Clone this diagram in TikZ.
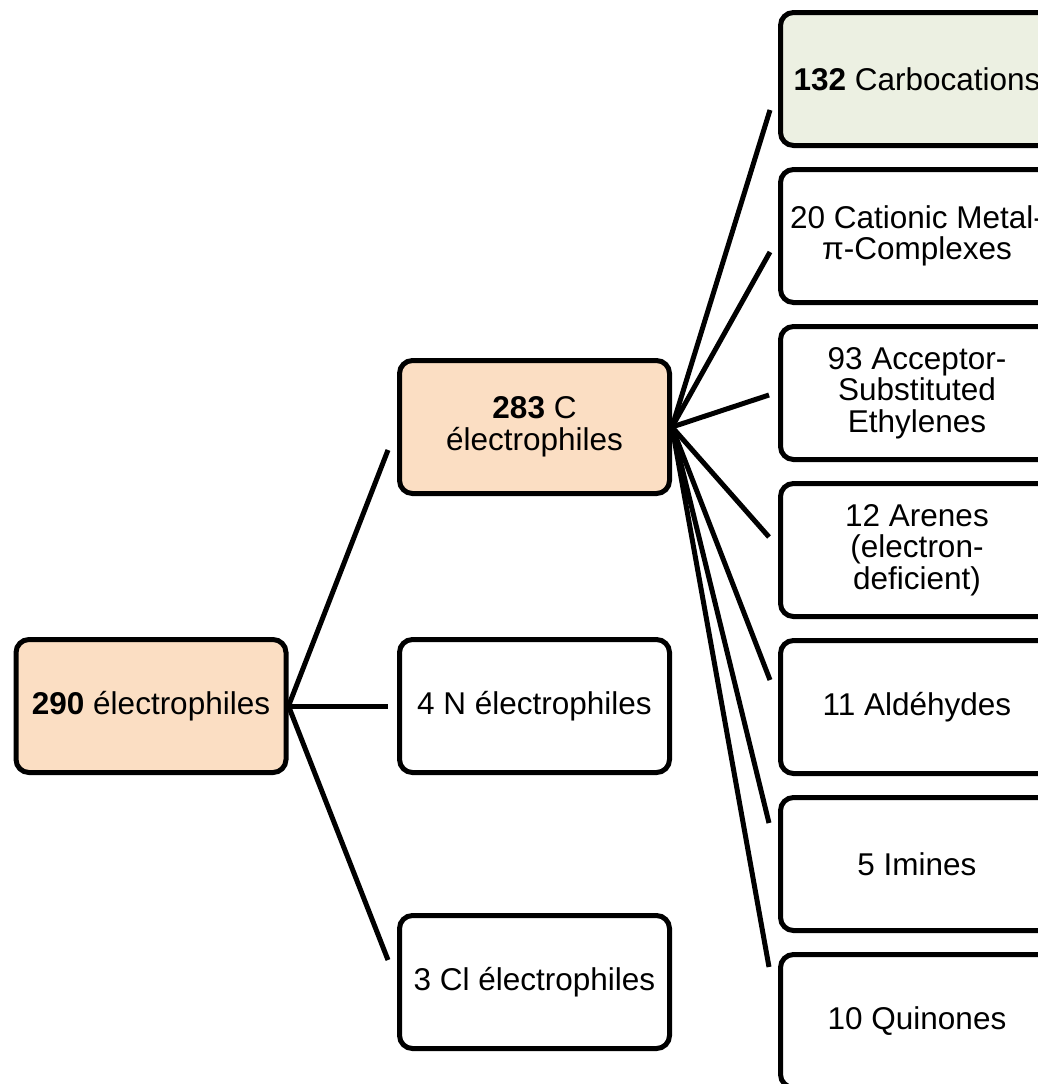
\documentclass[tikz,border=0pt]{standalone}
\usepackage{fontspec}
\setmainfont{Liberation Sans}
\definecolor{peach}{HTML}{FBDEC3}
\definecolor{palegreen}{HTML}{ECF0E2}
\begin{document}
\begin{tikzpicture}[x=1pt,y=-1pt,
  box/.style={draw=black, line width=5pt, rounded corners=13pt, align=center,
    inner sep=0pt, font=\fontsize{31.5}{31.5}\selectfont},
  mainbox/.style={box, minimum width=270pt, minimum height=133pt},
  leafbox/.style={box, minimum width=273pt, minimum height=133pt, fill=white},
  link/.style={line width=5pt}]
\useasboundingbox (0,0) rectangle (1037,1084);
% level 1
\node[mainbox, fill=peach] (root) at (151,706) {\textbf{290} électrophiles};
% level 2
\node[mainbox, fill=peach] (c) at (534.5,427) {\textbf{283} C\\électrophiles};
\node[mainbox, fill=white] (n) at (534.5,706) {4 N électrophiles};
\node[mainbox, fill=white] (cl) at (534.5,982) {3 Cl électrophiles};
% level 3
\node[leafbox, fill=palegreen] (l1) at (917,79) {\textbf{132} Carbocations};
\node[leafbox] (l2) at (917,236) {20 Cationic Metal-\\π-Complexes};
\node[leafbox] (l3) at (917,393) {93 Acceptor-\\Substituted\\Ethylenes};
\node[leafbox] (l4) at (917,550) {12 Arenes\\(electron-\\deficient)};
\node[leafbox] (l5) at (917,707) {11 Aldéhydes};
\node[leafbox] (l6) at (917,864) {5 Imines};
\node[leafbox] (l7) at (917,1021) {10 Quinones};
% free ends of connectors
\coordinate (a1) at (388,450);
\coordinate (a2) at (388,706);
\coordinate (a3) at (388,960);
\coordinate (b1) at (770,110);
\coordinate (b2) at (770,252);
\coordinate (b3) at (769,395);
\coordinate (b4) at (769,537);
\coordinate (b5) at (770,680);
\coordinate (b6) at (769,823);
\coordinate (b7) at (769,967);
% connectors
\foreach \t in {a1,a2,a3} \draw[link] (root.east) -- (\t);
\foreach \t in {b1,b2,b3,b4,b5,b6,b7} \draw[link] (c.east) -- (\t);
\end{tikzpicture}
\end{document}
